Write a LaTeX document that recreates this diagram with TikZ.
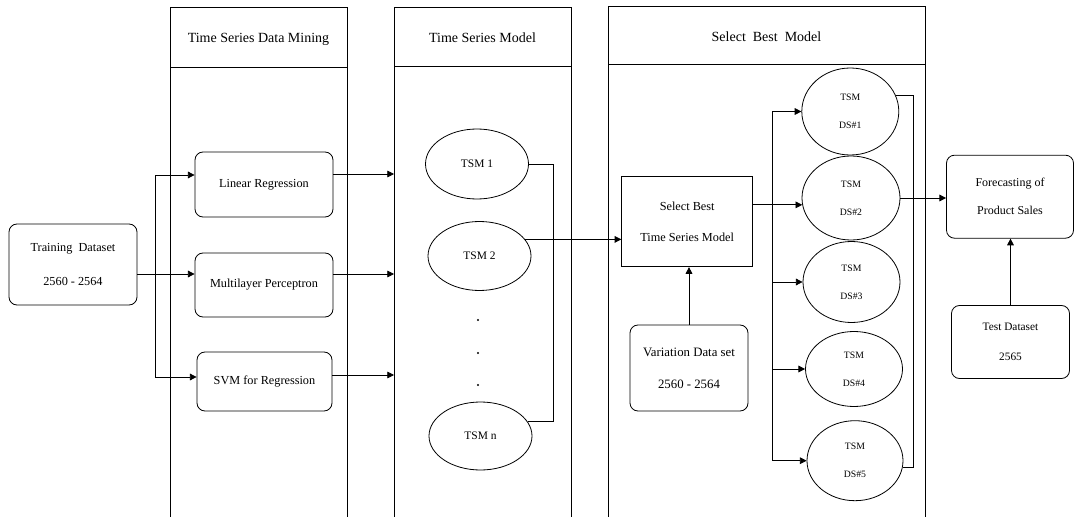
\documentclass[tikz,border=0pt]{standalone}
\usepackage{fontspec}
\setmainfont{Liberation Serif}
\usetikzlibrary{arrows.meta,shapes.geometric}
\newcommand\myfs[2]{\fontsize{#1}{#2}\selectfont}
\begin{document}
\begin{tikzpicture}[x=0.75pt,y=-0.75pt,
  every path/.style={line width=0.6pt},
  arr/.style={-{Triangle[length=5pt,width=5pt]}},
  rbox/.style={draw,rounded corners=6pt,inner sep=0pt,align=center,font=\myfs{9.2}{25}},
  sbox/.style={draw,inner sep=0pt,align=center,font=\myfs{9.2}{23.5}},
  tsmell/.style={draw,ellipse,inner sep=0pt,minimum width=77.25pt,font=\myfs{8.6}{10}},
  dsell/.style={draw,ellipse,inner sep=0pt,align=center,font=\myfs{7.3}{21}},
  head/.style={font=\myfs{10.5}{12}}
]
\useasboundingbox (0,0) rectangle (1076,517);

% columns
\draw (170,517) -- (170,7) -- (347,7) -- (347,517);
\draw (170,67) -- (347,67);
\draw (394,517) -- (394,7) -- (571,7) -- (571,517);
\draw (394,66) -- (571,66);
\draw (608,517) -- (608,6) -- (925,6) -- (925,517);
\draw (608,64) -- (925,64);
\node[head] (h1) at (258.5,39) {Time Series Data Mining};
\node[head] (h2) at (482.5,38) {Time Series Model};
\node[head] (h3) at (766.5,37) {Select\ \ Best\ \ Model};

% left boxes
\node[rbox,minimum width=96pt,minimum height=60.75pt] (train) at (73,264.5) {Training\ \ Dataset\\2560 - 2564};
\node[rbox,minimum width=103.5pt,minimum height=48.75pt] (lr) at (264,184.5) {Linear Regression};
\node[rbox,minimum width=103.5pt,minimum height=48pt] (mlp) at (264,285) {Multilayer Perceptron};
\node[rbox,minimum width=101.25pt,minimum height=44.25pt] (svm) at (264.5,381.5) {SVM for Regression};

% TSM ellipses
\node[tsmell,minimum height=52.5pt] (tsm1) at (477,164) {TSM 1};
\node[tsmell,minimum height=51.75pt] (tsm2) at (479.5,256) {TSM 2};
\node[tsmell,minimum height=51pt] (tsmn) at (480.5,436) {TSM n};
\fill (478,320) circle[radius=0.8pt];
\fill (478,353) circle[radius=0.8pt];
\fill (478,385) circle[radius=0.8pt];

% select best
\node[sbox,minimum width=98.25pt,minimum height=67.5pt] (sel) at (687.2,221.7) {Select Best\\Time Series Model};
\node[rbox,minimum width=88.5pt,minimum height=64.5pt,font=\myfs{9.6}{23.8}] (var) at (689,368) {Variation Data set\\2560 - 2564};

% DS ellipses
\node[dsell,minimum width=72.75pt,minimum height=65.25pt] (ds1) at (850.3,111.5) {TSM\\DS\#1};
\node[dsell,minimum width=73.5pt,minimum height=63pt] (ds2) at (851,198) {TSM\\DS\#2};
\node[dsell,minimum width=72.75pt,minimum height=60.75pt] (ds3) at (851.5,282) {TSM\\DS\#3};
\node[dsell,minimum width=72.75pt,minimum height=56.25pt] (ds4) at (854,369) {TSM\\DS\#4};
\node[dsell,minimum width=72pt,minimum height=60pt] (ds5) at (855,460.7) {TSM\\DS\#5};

% right boxes
\node[rbox,minimum width=95.25pt,minimum height=62.25pt,font=\myfs{9}{21.2}] (fc) at (1010,196.7) {Forecasting of\\Product Sales};
\node[rbox,minimum width=88.5pt,minimum height=54.75pt,font=\myfs{8.5}{22.5}] (test) at (1010.5,342) {Test Dataset\\2565};

% helper coordinates
\coordinate (r1) at (0,175);
\coordinate (r2) at (0,274);
\coordinate (r3) at (0,377);
\coordinate (o1) at (394,174);
\coordinate (o2) at (394,274);
\coordinate (o3) at (394,375);
\coordinate (bx) at (155,274);
\coordinate (lx) at (553,0);
\coordinate (bj) at (772.7,0);
\coordinate (rj) at (913,0);

% connectors: training -> mining
\draw[arr] (train.east |- r2) -- (mlp.west |- r2);
\draw[arr] (bx) |- (lr.west |- r1);
\draw[arr] (bx) |- (svm.west |- r3);
% mining -> model column
\draw[arr] (lr.east |- o1) -- (o1);
\draw[arr] (mlp.east |- o2) -- (o2);
\draw[arr] (svm.east |- o3) -- (o3);
% tsm bracket
\draw (tsm1.east) -- (tsm1.east -| lx) |- (tsmn.17);
\draw[arr] (tsm2.20) -- (tsm2.20 -| sel.west);
% variation -> select
\draw[arr] (var.north) -- (var.north |- sel.south);
% select -> DS
\draw[arr] (ds2.188 -| sel.east) -- (ds2.188);
\draw[arr] (ds2.188 -| bj) |- (ds1.west);
\draw[arr] (ds2.188 -| bj) |- (ds3.west);
\draw[arr] (ds2.188 -| bj) |- (ds4.west);
\draw[arr] (ds2.188 -| bj) |- (ds5.west);
% DS bracket
\draw (ds1.19) -- (ds1.19 -| rj) |- (ds5.-8);
% -> forecasting
\draw[arr] (ds2.east) -- (ds2.east -| fc.west);
\draw[arr] (test.north) -- (test.north |- fc.south);
\end{tikzpicture}
\end{document}
